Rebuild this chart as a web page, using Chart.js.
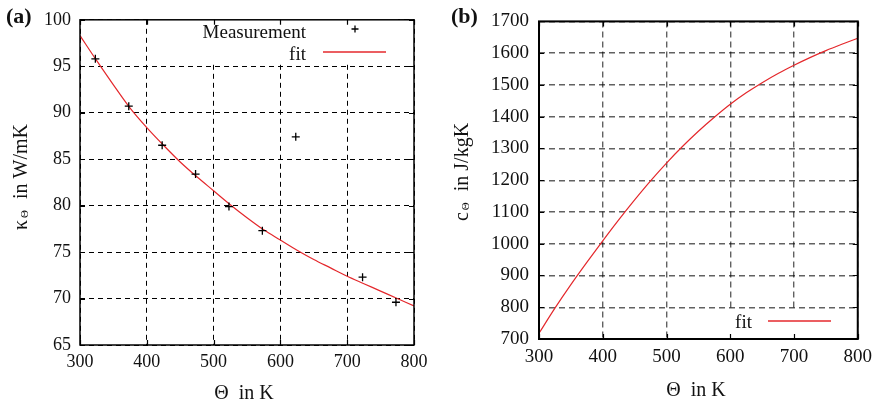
<!DOCTYPE html>
<html>
<head>
<meta charset="utf-8">
<script src="https://cdn.jsdelivr.net/npm/chart.js@4/dist/chart.umd.min.js"></script>
<style>
  body { margin: 0; background: #fff; }
  #wrap { position: relative; width: 879px; height: 406px; }
  canvas { position: absolute; top: 0; }
  #chartA { left: 0; }
  #chartB { left: 440px; }
</style>
</head>
<body>
<div id="wrap">
  <canvas id="chartA" width="440" height="406"></canvas>
  <canvas id="chartB" width="439" height="406"></canvas>
</div>
<script>
// values
const xTicks = [300, 400, 500, 600, 700, 800];

// (a) thermal conductivity
const measTemp = [323, 373, 423, 473, 523, 573, 623, 723, 773];
const measKappa = [95.8, 90.7, 86.5, 83.4, 79.9, 77.3, 87.4, 72.3, 69.6];
const fitTempA = [300, 325, 350, 375, 400, 425, 450, 475, 500, 525, 550, 575, 600, 625, 650, 675, 700, 725, 750, 775, 800];
const fitKappa = [98.3, 95.6, 93.0, 90.5, 88.4, 86.5, 84.7, 83.1, 81.6, 80.1, 78.7, 77.4, 76.3, 75.2, 74.2, 73.3, 72.4, 71.6, 70.8, 70.0, 69.2];

// (b) heat capacity
const fitTempB = [300, 325, 350, 375, 400, 425, 450, 475, 500, 525, 550, 575, 600, 625, 650, 675, 700, 725, 750, 775, 800];
const fitHeat = [718, 797, 871, 941, 1009, 1075, 1138, 1198, 1254, 1306, 1354, 1398, 1439, 1475, 1507, 1536, 1562, 1586, 1608, 1628, 1647];

const SERIF = '"Liberation Serif", "DejaVu Serif", serif';
const RED = 'rgb(228, 40, 44)';

function pts(xs, ys) {
    return xs.map((x, i) => ({ x: x, y: ys[i] }));
}

function drawYTitle(ctx, bx, cy, main, sub, rest) {
    ctx.save();
    ctx.translate(bx, cy);
    ctx.rotate(-Math.PI / 2);
    ctx.fillStyle = '#111';
    ctx.textBaseline = 'alphabetic';
    ctx.textAlign = 'left';
    ctx.font = '20px ' + SERIF;
    const w1 = ctx.measureText(main).width;
    const w3 = ctx.measureText(rest).width;
    ctx.font = '11px ' + SERIF;
    const w2 = ctx.measureText(sub).width;
    const total = w1 + 3 + w2 + w3;
    let x = -total / 2;
    ctx.font = '20px ' + SERIF;
    ctx.fillText(main, x, 0);
    x += w1 + 2;
    ctx.font = '11px ' + SERIF;
    ctx.fillText(sub, x, 1);
    x += w2 + 1;
    ctx.font = '20px ' + SERIF;
    ctx.fillText(rest, x, 0);
    ctx.restore();
}

const panelPlugin = {
    id: 'panel',
    beforeDatasetsDraw(chart, args, opts) {
        const ctx = chart.ctx;
        const k = opts.keyBox;
        ctx.save();
        ctx.fillStyle = '#fff';
        ctx.fillRect(k[0], k[1], k[2], k[3]);
        ctx.restore();
    },
    afterDraw(chart, args, opts) {
        const ctx = chart.ctx;
        const a = chart.chartArea;
        const xs = chart.scales.x;
        const ys = chart.scales.y;
        ctx.save();

        // frame
        ctx.strokeStyle = '#000';
        ctx.lineWidth = opts.frameWidth;
        ctx.strokeRect(a.left, a.top, a.right - a.left, a.bottom - a.top);

        // inner ticks on all four sides
        ctx.lineWidth = 1.2;
        ctx.beginPath();
        xs.ticks.forEach(t => {
            const px = Math.round(xs.getPixelForValue(t.value)) + 0.5;
            ctx.moveTo(px, a.bottom); ctx.lineTo(px, a.bottom - 5);
            ctx.moveTo(px, a.top); ctx.lineTo(px, a.top + 5);
        });
        ys.ticks.forEach(t => {
            const py = Math.round(ys.getPixelForValue(t.value)) + 0.5;
            ctx.moveTo(a.left, py); ctx.lineTo(a.left + 5, py);
            ctx.moveTo(a.right, py); ctx.lineTo(a.right - 5, py);
        });
        ctx.stroke();

        // key
        ctx.fillStyle = '#111';
        ctx.font = '19px ' + SERIF;
        ctx.textAlign = 'right';
        ctx.textBaseline = 'alphabetic';
        opts.key.forEach(item => {
            const ds = chart.data.datasets[item.ds];
            ctx.fillText(ds.label, item.tx, item.ty);
            if (item.kind === 'line') {
                ctx.strokeStyle = ds.borderColor;
                ctx.lineWidth = 1.3;
                ctx.beginPath();
                ctx.moveTo(item.sx, item.sy);
                ctx.lineTo(item.sx + item.sw, item.sy);
                ctx.stroke();
            } else {
                ctx.strokeStyle = '#000';
                ctx.lineWidth = 1.3;
                ctx.beginPath();
                ctx.moveTo(item.sx - 3.5, item.sy); ctx.lineTo(item.sx + 3.5, item.sy);
                ctx.moveTo(item.sx, item.sy - 3.5); ctx.lineTo(item.sx, item.sy + 3.5);
                ctx.stroke();
            }
        });

        // panel letter
        ctx.textAlign = 'left';
        ctx.font = 'bold 22px ' + SERIF;
        ctx.fillText(opts.letter[0], opts.letter[1], opts.letter[2]);

        // x title
        ctx.textAlign = 'center';
        ctx.font = '20px ' + SERIF;
        ctx.fillText(opts.xTitle[0], opts.xTitle[1], opts.xTitle[2]);

        // y title
        const yt = opts.yTitle;
        drawYTitle(ctx, yt.bx, yt.cy, yt.main, yt.sub, yt.rest);

        ctx.restore();
    }
};

function axes(cfg) {
    return {
        x: {
            type: 'linear',
            min: 300,
            max: 800,
            afterBuildTicks: s => { s.ticks = xTicks.map(v => ({ value: v })); },
            afterFit: s => { s.height = cfg.xHeight; },
            ticks: {
                font: { family: SERIF, size: cfg.fontSize },
                color: '#111',
                padding: cfg.xPad,
                maxRotation: 0,
                callback: v => String(v)
            },
            grid: { color: cfg.gridColor, lineWidth: cfg.gridWidth, drawTicks: false },
            border: { display: false, dash: cfg.dash }
        },
        y: {
            type: 'linear',
            min: cfg.yMin,
            max: cfg.yMax,
            afterBuildTicks: s => { s.ticks = cfg.yTicks.map(v => ({ value: v })); },
            afterFit: s => { s.width = cfg.yWidth; },
            ticks: {
                font: { family: SERIF, size: cfg.fontSize },
                color: '#111',
                padding: cfg.yPad,
                callback: v => String(v)
            },
            grid: { color: cfg.gridColor, lineWidth: cfg.gridWidth, drawTicks: false },
            border: { display: false, dash: cfg.dash }
        }
    };
}

const yTicksA = [65, 70, 75, 80, 85, 90, 95, 100];
const yTicksB = [700, 800, 900, 1000, 1100, 1200, 1300, 1400, 1500, 1600, 1700];

new Chart(document.getElementById('chartA'), {
    type: 'scatter',
    data: {
        datasets: [
            {
                label: 'Measurement',
                data: pts(measTemp, measKappa),
                showLine: false,
                pointStyle: 'cross',
                pointRadius: 4,
                borderColor: '#000',
                backgroundColor: '#000',
                borderWidth: 1.3
            },
            {
                label: 'fit',
                data: pts(fitTempA, fitKappa),
                showLine: true,
                pointRadius: 0,
                borderColor: RED,
                borderWidth: 1.2,
                cubicInterpolationMode: 'monotone'
            }
        ]
    },
    options: {
        responsive: false,
        animation: false,
        events: [],
        layout: { padding: { left: 0, right: 26, top: 12, bottom: 0 } },
        scales: axes({
            xHeight: 61, yWidth: 80, xPad: 6, yPad: 9, fontSize: 18,
            yMin: 65, yMax: 100, yTicks: yTicksA,
            gridColor: '#000', gridWidth: 1, dash: [5, 4]
        }),
        plugins: {
            legend: { display: false },
            tooltip: { enabled: false },
            panel: {
                frameWidth: 1.5,
                keyBox: [150, 15, 248, 47],
                key: [
                    { ds: 0, kind: 'point', tx: 306, ty: 38, sx: 355, sy: 29 },
                    { ds: 1, kind: 'line', tx: 306, ty: 60, sx: 323, sy: 52, sw: 63 }
                ],
                letter: ['(a)', 6, 23],
                xTitle: ['\u0398  in K', 244, 399],
                yTitle: { bx: 27, cy: 177, main: '\u03ba', sub: '\u0398', rest: '  in W/mK' }
            }
        }
    },
    plugins: [panelPlugin]
});

new Chart(document.getElementById('chartB'), {
    type: 'scatter',
    data: {
        datasets: [
            {
                label: 'fit',
                data: pts(fitTempB, fitHeat),
                showLine: true,
                pointRadius: 0,
                borderColor: RED,
                borderWidth: 1.2,
                cubicInterpolationMode: 'monotone'
            }
        ]
    },
    options: {
        responsive: false,
        animation: false,
        events: [],
        layout: { padding: { left: 0, right: 20, top: 19, bottom: 0 } },
        scales: axes({
            xHeight: 67, yWidth: 99, xPad: 7, yPad: 10, fontSize: 19,
            yMin: 700, yMax: 1700, yTicks: yTicksB,
            gridColor: 'rgba(0,0,0,0.62)', gridWidth: 1.4, dash: [6, 4]
        }),
        plugins: {
            legend: { display: false },
            tooltip: { enabled: false },
            panel: {
                frameWidth: 2,
                keyBox: [285, 309, 129, 29],
                key: [
                    { ds: 0, kind: 'line', tx: 312, ty: 328, sx: 328, sy: 321, sw: 63 }
                ],
                letter: ['(b)', 11, 23],
                xTitle: ['\u0398  in K', 256, 396],
                yTitle: { bx: 28, cy: 172, main: 'c', sub: '\u0398', rest: '  in J/kgK' }
            }
        }
    },
    plugins: [panelPlugin]
});
</script>
</body>
</html>
